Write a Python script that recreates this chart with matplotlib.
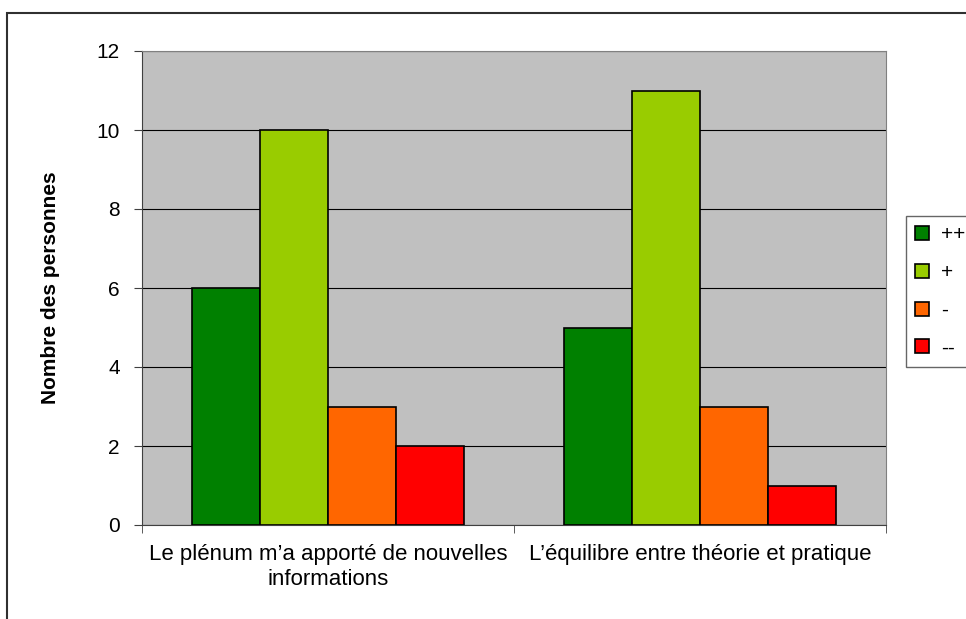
import numpy as np
import matplotlib.pyplot as plt
from matplotlib.patches import Rectangle

plt.rcParams['font.family'] = ['Liberation Sans', 'DejaVu Sans']

categories = ["Le plénum m\u2019a apporté de nouvelles\ninformations",
              "L\u2019équilibre entre théorie et pratique"]
series = ["++", "+", "-", "--"]
values = [[6, 5], [10, 11], [3, 3], [2, 1]]
colors = ["#008000", "#99CC00", "#FF6600", "#FF0000"]

fig = plt.figure(figsize=(9.66, 6.19), dpi=100)
ax = fig.add_axes([142/966, 1-525/619, (886-142)/966, (525-51)/619])
ax.set_facecolor("#C0C0C0")

x = np.arange(len(categories))
w = 0.183
for i, (s, v, c) in enumerate(zip(series, values, colors)):
    ax.bar(x + (i - 1.5)*w, v, w, color=c, edgecolor="black", linewidth=1.2,
           label=s, zorder=3)

ax.set_xlim(-0.5, 1.5)
ax.set_ylim(0, 12)
ax.set_yticks(range(0, 13, 2))
ax.yaxis.grid(True, color="black", linewidth=0.8, zorder=1)
ax.set_xticks(x)
ax.set_xticklabels(categories, fontsize=16, linespacing=1.25)
ax.set_xticks([-0.5, 0.5, 1.5], minor=True)
ax.tick_params(axis="x", which="major", length=0, pad=14)
ax.tick_params(axis="x", which="minor", length=6, color="#404040", direction="out")
ax.tick_params(axis="y", labelsize=15, length=6, color="#404040", pad=10)
for sp in ["top", "right"]:
    ax.spines[sp].set_color("#808080")
for sp in ["left", "bottom"]:
    ax.spines[sp].set_color("#404040")
ax.set_ylabel("Nombre des personnes", fontsize=15, fontweight="bold", labelpad=26)

leg = fig.legend(loc="upper left", bbox_to_anchor=(906/966, 1-216/619),
                 fontsize=15, frameon=True, fancybox=False, handlelength=0.65,
                 handleheight=0.65, labelspacing=0.9, borderpad=0.45,
                 handletextpad=0.6, borderaxespad=0)
leg.get_frame().set_edgecolor("#404040")
leg.get_frame().set_linewidth(1.0)

fig.patches.append(Rectangle((7/966, -0.1), 1.2, 1-13/619+0.1, transform=fig.transFigure,
                             fill=False, edgecolor="#303030", linewidth=1.5))

fig.savefig("out.png", dpi=100)
